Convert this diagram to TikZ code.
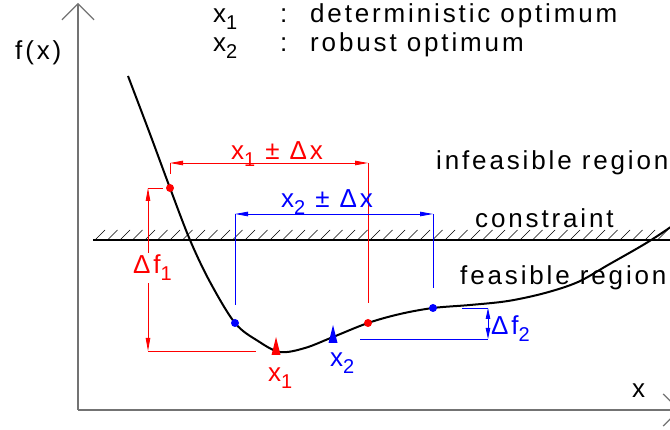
\documentclass[tikz,border=0pt]{standalone}
\usepackage{fontspec}
\setmainfont{Liberation Sans}[LetterSpace=11]
\usetikzlibrary{arrows.meta,calc,positioning}
\newcommand{\lsub}[1]{\raisebox{-7pt}{\fontsize{20}{20}\selectfont #1}}
\tikzset{
  axis/.style={draw=black!55, line width=1.2pt, -{Straight Barb[length=16pt,width=32pt,line width=1.2pt]}},
  fcurve/.style={black, line width=2pt},
  constr/.style={black, line width=2pt},
  hatch/.style={black, line width=0.7pt},
  dimred/.style={red, line width=0.8pt},
  dimblue/.style={blue, line width=0.8pt},
  dimarrow/.style={{Triangle[length=13pt,width=4.5pt]}-{Triangle[length=13pt,width=4.5pt]}},
  smallarrow/.style={{Triangle[length=11pt,width=4.5pt]}-{Triangle[length=11pt,width=4.5pt]}},
  txt/.style={font=\fontsize{26}{30}\selectfont, inner sep=0pt, anchor=base west},
  reddot/.style={circle, fill=red, inner sep=0pt, minimum size=8pt},
  bluedot/.style={circle, fill=blue, inner sep=0pt, minimum size=8pt}
}
\begin{document}
\begin{tikzpicture}[x=1pt,y=-1pt]
  \useasboundingbox (0,0) rectangle (670,430);
  % axes
  \coordinate (o) at (78,410);
  \draw[axis] (o) -- (78,3);
  \draw[axis] (o) -- (680,410);
  \node[txt] (fx) at (15,60) {f(x)};
  \node[txt] (xlab) at (632,398) {x};
  % legend
  \node[txt] (key1) at (213,23) {x\lsub{1}};
  \node[txt] (col1) at (280,23) {:};
  \node[txt] (desc1) at (310,23) {deterministic optimum};
  \node[txt] (key2) at (213,52) {x\lsub{2}};
  \node[txt] (col2) at (280,52) {:};
  \node[txt] (desc2) at (310,52) {robust optimum};
  % constraint
  \draw[constr] (93,240) -- (670,240);
  \foreach \x in {95,107.5,...,665}{\draw[hatch] (\x,240) -- ++(10,-10);}
  \node[txt] (infeas) at (436,170) {infeasible region};
  \node[txt] (cons) at (475,228) {constraint};
  \node[txt] (feas) at (460,285) {feasible region};
  % objective function
  \draw[fcurve] plot[smooth, tension=0.55] coordinates {(128,76) (150,134) (170,188) (190,240) (210,282) (235,323) (258,341) (280,352) (305,348) (333,337) (368,323) (400,314) (433,308) (470,305) (508,301) (545,293) (578,282) (608,265) (648,242) (678,222)};
  % optima
  \coordinate (m1) at (276,355);
  \coordinate (m2) at (333,343);
  \fill[red] (m1) -- ++(-4.5,0) -- ++(4.5,-18) -- ++(4.5,18) -- cycle;
  \fill[blue] (m2) -- ++(-4.5,0) -- ++(4.5,-18) -- ++(4.5,18) -- cycle;
  \node[txt, red] (lx1) at (268,382) {x\lsub{1}};
  \node[txt, blue] (lx2) at (330,367) {x\lsub{2}};
  % deterministic: x1 +- dx
  \coordinate (a1) at (170,163);
  \coordinate (b1) at (368,163);
  \draw[dimred] (170,174) -- (a1);
  \draw[dimred] (b1) -- (368,303);
  \draw[dimred, dimarrow] (a1) -- (b1);
  \node[txt, red] (dx1) at (231,160) {x\lsub{1} ± Δx};
  % robust: x2 +- dx
  \coordinate (a2) at (235,214);
  \coordinate (b2) at (433,214);
  \draw[dimblue] (a2) -- (235,305);
  \draw[dimblue] (b2) -- (433,288);
  \draw[dimblue, dimarrow] (a2) -- (b2);
  \node[txt, blue] (dx2) at (281,208) {x\lsub{2} ± Δx};
  % sample points
  \node[reddot] (p1) at (170,188) {};
  \node[reddot] (p2) at (368,323) {};
  \node[bluedot] (q1) at (235,323) {};
  \node[bluedot] (q2) at (433,308) {};
  % df1
  \coordinate (t1) at (148,188);
  \coordinate (u1) at (148,351);
  \draw[dimred] (t1) -- (163,188);
  \draw[dimred] (u1) -- (256,351);
  \draw[dimred, dimarrow] (t1) -- (u1);
  \node[txt, red, fill=white, inner sep=2pt] (df1) at (131,274) {Δf\lsub{1}};
  % df2
  \coordinate (t2) at (488,308);
  \coordinate (u2) at (488,339);
  \draw[dimblue] (462,308) -- (t2);
  \draw[dimblue] (360,339) -- (u2);
  \draw[dimblue, smallarrow] (t2) -- (u2);
  \node[txt, blue] (df2) at (491,335) {Δf\lsub{2}};
\end{tikzpicture}
\end{document}
